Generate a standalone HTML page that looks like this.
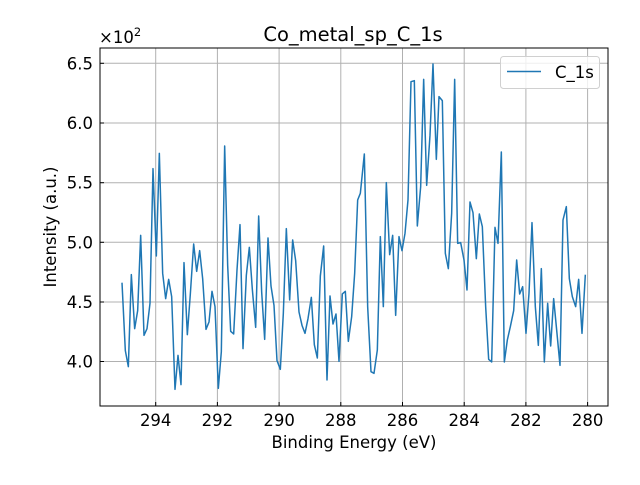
<!DOCTYPE html>
<html><head><meta charset="utf-8"><style>
body{margin:0;background:#fff;}
svg text{font-family:"DejaVu Sans","Liberation Sans",sans-serif;fill:#000;}
</style></head><body>
<svg width="640" height="480" viewBox="0 0 640 480" xmlns="http://www.w3.org/2000/svg">
<rect width="640" height="480" fill="#fff"/>
<g stroke="#b0b0b0" stroke-width="1">
<line x1="155.7" y1="48" x2="155.7" y2="406"/>
<line x1="217.4" y1="48" x2="217.4" y2="406"/>
<line x1="279.1" y1="48" x2="279.1" y2="406"/>
<line x1="340.8" y1="48" x2="340.8" y2="406"/>
<line x1="402.5" y1="48" x2="402.5" y2="406"/>
<line x1="464.2" y1="48" x2="464.2" y2="406"/>
<line x1="525.9" y1="48" x2="525.9" y2="406"/>
<line x1="587.6" y1="48" x2="587.6" y2="406"/>
<line x1="100" y1="63.3" x2="608" y2="63.3"/>
<line x1="100" y1="123" x2="608" y2="123"/>
<line x1="100" y1="182.7" x2="608" y2="182.7"/>
<line x1="100" y1="242.3" x2="608" y2="242.3"/>
<line x1="100" y1="302" x2="608" y2="302"/>
<line x1="100" y1="361.5" x2="608" y2="361.5"/>
</g>
<g fill="none" stroke="#1f77b4" stroke-width="1.5" stroke-linejoin="round">
<polyline transform="translate(99,40) scale(0.33333)" vector-effect="non-scaling-stroke" points="69,728 79,932 88,980 97,704 107,866 116,812 125,586 135,886 144,866 153,790 162,386 172,648 181,340 191,700 200,776 209,718 218,770 228,1048 237,946 246,1034 255,668 265,884 274,762 284,612 293,694 302,632 311,716 321,868 330,846 339,754 348,800 358,1045 367,935 377,318 386,676 395,874 404,882 414,690 423,554 432,926 442,706 451,622 460,748 470,862 479,528 488,756 497,898 507,594 516,738 525,796 534,962 544,988 553,820 562,566 572,780 581,600 590,662 600,816 609,856 618,880 627,836 637,772 646,914 655,954 664,708 674,618 684,1020 693,768 702,852 711,822 720,964 730,762 739,754 748,904 758,830 767,700 776,480 784,460 796,342 806,800 816,995 825,1000 835,930 844,590 853,800 862,428 872,644 881,586 890,826 900,590 909,632 918,580 927,480 936,125 946,122 955,558 965,440 974,118 983,436 993,286 1002,72 1012,358 1020,170 1030,182 1039,640 1048,686 1058,520 1067,118 1076,610 1085,608 1095,660 1104,750 1113,486 1122,518 1132,656 1141,522 1150,560 1160,800 1169,958 1178,966 1188,562 1197,610 1207,336 1216,966 1225,900 1234,860 1244,812 1253,660 1262,762 1271,740 1281,880 1290,760 1299,548 1309,800 1318,916 1327,686 1336,966 1346,790 1355,918 1364,776 1373,870 1383,976 1392,540 1402,500 1411,716 1420,770 1430,800 1439,718 1449,880 1459,704"/>
</g>
<rect x="100" y="48" width="508" height="358" fill="none" stroke="#000" stroke-width="1"/>
<g stroke="#000" stroke-width="1">
<line x1="155.7" y1="406" x2="155.7" y2="402"/>
<line x1="217.4" y1="406" x2="217.4" y2="402"/>
<line x1="279.1" y1="406" x2="279.1" y2="402"/>
<line x1="340.8" y1="406" x2="340.8" y2="402"/>
<line x1="402.5" y1="406" x2="402.5" y2="402"/>
<line x1="464.2" y1="406" x2="464.2" y2="402"/>
<line x1="525.9" y1="406" x2="525.9" y2="402"/>
<line x1="587.6" y1="406" x2="587.6" y2="402"/>
<line x1="100" y1="63.3" x2="104" y2="63.3"/>
<line x1="100" y1="123" x2="104" y2="123"/>
<line x1="100" y1="182.7" x2="104" y2="182.7"/>
<line x1="100" y1="242.3" x2="104" y2="242.3"/>
<line x1="100" y1="302" x2="104" y2="302"/>
<line x1="100" y1="361.5" x2="104" y2="361.5"/>
</g>
<g font-size="16.5" text-anchor="middle">
<text x="155.7" y="426">294</text><text x="217.4" y="426">292</text><text x="279.1" y="426">290</text><text x="340.8" y="426">288</text><text x="402.5" y="426">286</text><text x="464.2" y="426">284</text><text x="525.9" y="426">282</text><text x="587.6" y="426">280</text>
</g>
<g font-size="16.5" text-anchor="end">
<text x="93" y="69.3">6.5</text><text x="93" y="129">6.0</text><text x="93" y="188.7">5.5</text><text x="93" y="248.3">5.0</text><text x="93" y="308">4.5</text><text x="93" y="367.5">4.0</text>
</g>
<text x="99" y="43" font-size="16.5">×10<tspan font-size="11.5" dy="-7">2</tspan></text>
<text x="353" y="41" font-size="19.5" text-anchor="middle">Co_metal_sp_C_1s</text>
<text x="354" y="448" font-size="16.5" text-anchor="middle">Binding Energy (eV)</text>
<text transform="translate(56,227) rotate(-90)" font-size="16.5" text-anchor="middle">Intensity (a.u.)</text>
<rect x="500.5" y="56.5" width="99" height="32" rx="3" fill="#fff" fill-opacity="0.8" stroke="#d0d0d0"/>
<line x1="507" y1="71.5" x2="541" y2="71.5" stroke="#1f77b4" stroke-width="1.5"/>
<text x="555" y="78" font-size="16.5">C_1s</text>
</svg>
</body></html>
